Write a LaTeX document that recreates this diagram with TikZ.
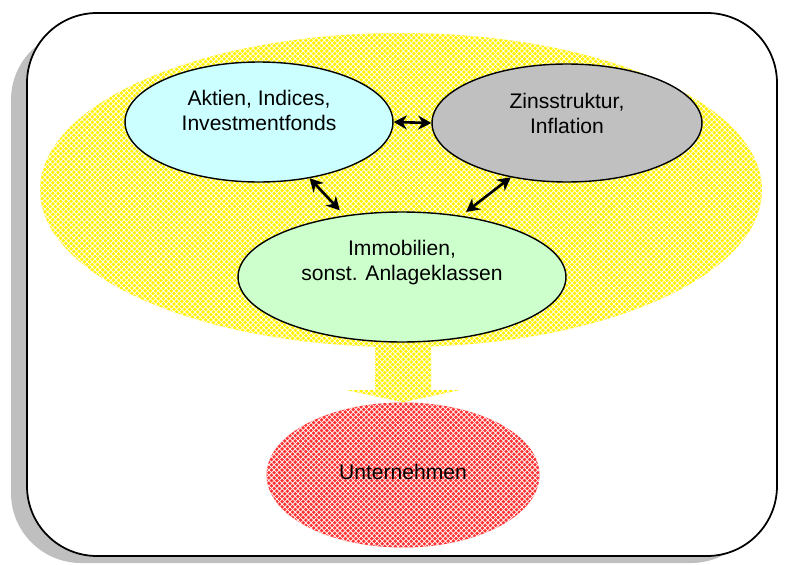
\documentclass[tikz,border=0pt]{standalone}
\usepackage{fontspec}
\setmainfont{Liberation Sans}
\usepackage{tikz}
\usetikzlibrary{positioning,shapes.geometric,arrows.meta,patterns,calc}

\definecolor{hellblau}{HTML}{CCFFFF}
\definecolor{hellgruen}{HTML}{CCFFCC}
\definecolor{grau}{HTML}{C0C0C0}
\definecolor{schatten}{HTML}{BFBFBF}

\begin{document}
\begin{tikzpicture}[x=0.02cm, y=-0.02cm, font=\fontsize{12}{14}\selectfont,
    pfeil/.style={{Stealth[length=7.5pt,width=8pt]}-{Stealth[length=7.5pt,width=8pt]}, line width=1.5pt},
    gelbmuster/.style={preaction={fill=yellow}, pattern=crosshatch, pattern color=white},
    rotmuster/.style={preaction={fill=red!80}, pattern=crosshatch, pattern color=white}]
    \useasboundingbox (0,0) rectangle (785,565);

    % rahmen mit schatten
    \fill [schatten, rounded corners=1.4cm] (11,30) rectangle (761,563);
    \draw [fill=white, line width=1pt, rounded corners=1.4cm] (27,13) rectangle (777,556);

    % definisci i nodi
    \node (feld) [ellipse, gelbmuster, inner sep=0pt, minimum width=14.44cm, minimum height=6.28cm] at (401,190) {};
    \node (firma) [ellipse, rotmuster, inner sep=0pt, minimum width=5.46cm, minimum height=2.9cm, text depth=0.12cm] at (403,475) {Unternehmen};
    \path [gelbmuster] (firma.north) -- ++(56,-12) -- ++(-28,0) -- ++(0,-50) -- ++(-56,0) -- ++(0,50) -- ++(-28,0) -- cycle;
    \node (aktien) [ellipse, draw, thick, fill=hellblau, inner sep=0pt, minimum width=5.36cm, minimum height=2.4cm, align=center, text depth=0.47cm] at (259,122) {Aktien, Indices,\\Investmentfonds};
    \node (zins) [ellipse, draw, thick, fill=grau, inner sep=0pt, minimum width=5.4cm, minimum height=2.36cm, align=center, text depth=0.39cm] at (567,123) {Zinsstruktur,\\Inflation};
    \node (immo) [ellipse, draw, thick, fill=hellgruen, inner sep=0pt, minimum width=6.56cm, minimum height=2.6cm, align=center, text depth=0.67cm] at (402,277) {Immobilien,\\sonst. Anlageklassen};

    % definisci i collegamenti
    \draw [pfeil] (aktien.east) -- (zins.west);
    \draw [pfeil, shorten >=4pt] (aktien.-48) -- (immo.133);
    \draw [pfeil, shorten >=3.5pt] (zins.224.5) -- (immo.46.8);
\end{tikzpicture}
\end{document}
